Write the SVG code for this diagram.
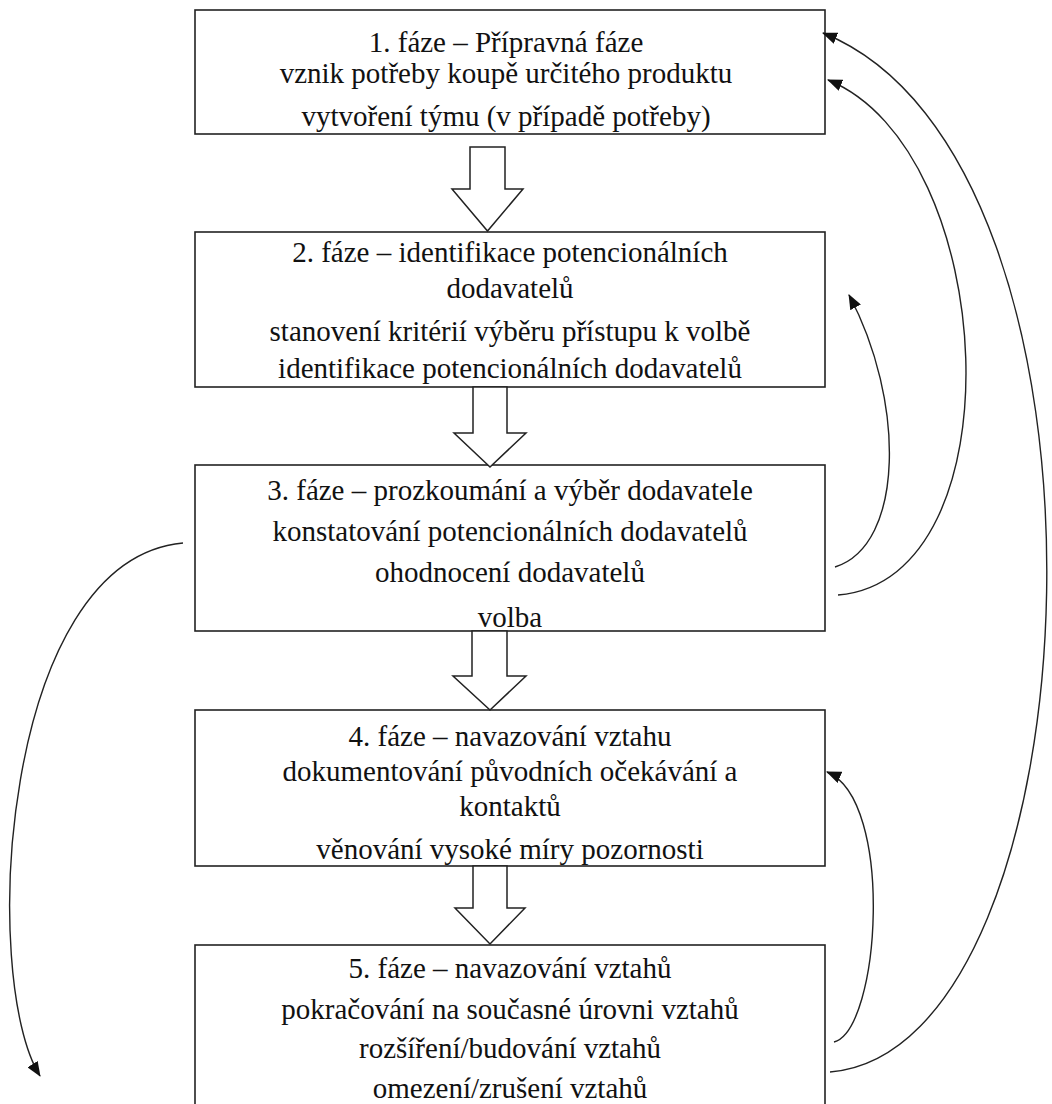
<svg xmlns="http://www.w3.org/2000/svg" width="1052" height="1104" viewBox="0 0 1052 1104">
<style>
.box{fill:#fff;stroke:#222;stroke-width:1.6}
.blk{fill:#fff;stroke:#222;stroke-width:1.5;stroke-linejoin:miter}
.t{font-family:'Liberation Serif','DejaVu Serif',serif;font-size:29px;fill:#111;text-anchor:middle}
.c{fill:none;stroke:#222;stroke-width:1.4}
</style>
<defs>
<marker id="ah" markerUnits="userSpaceOnUse" markerWidth="16" markerHeight="12" refX="14" refY="6" orient="auto">
<path d="M0,0 L15,6 L0,12 Z" fill="#111"/>
</marker>
</defs>
<rect width="1052" height="1104" fill="#fff"/>

<g id="node1" font-family="Liberation Serif, serif">
<rect class="box" x="195" y="10" width="630" height="124"/>
<text class="t" x="506" y="52">1. fáze – Přípravná fáze</text>
<text class="t" x="506" y="83">vznik potřeby koupě určitého produktu</text>
<text class="t" x="506" y="126">vytvoření týmu (v případě potřeby)</text>
</g>
<g id="node2">
<rect class="box" x="195" y="232" width="630" height="155"/>
<text class="t" x="510" y="262">2. fáze – identifikace potencionálních</text>
<text class="t" x="510" y="298">dodavatelů</text>
<text class="t" x="510" y="341">stanovení kritérií výběru přístupu k volbě</text>
<text class="t" x="510" y="378">identifikace potencionálních dodavatelů</text>
</g>
<g id="node3">
<rect class="box" x="195" y="465" width="630" height="166"/>
<text class="t" x="510" y="500">3. fáze – prozkoumání a výběr dodavatele</text>
<text class="t" x="510" y="541">konstatování potencionálních dodavatelů</text>
<text class="t" x="510" y="582">ohodnocení dodavatelů</text>
<text class="t" x="510" y="627">volba</text>
</g>
<g id="node4">
<rect class="box" x="195" y="710" width="630" height="156"/>
<text class="t" x="510" y="746">4. fáze – navazování vztahu</text>
<text class="t" x="510" y="781">dokumentování původních očekávání a</text>
<text class="t" x="510" y="816">kontaktů</text>
<text class="t" x="510" y="859">věnování vysoké míry pozornosti</text>
</g>
<g id="node5">
<rect class="box" x="195" y="945" width="630" height="170"/>
<text class="t" x="510" y="978">5. fáze – navazování vztahů</text>
<text class="t" x="510" y="1019">pokračování na současné úrovni vztahů</text>
<text class="t" x="510" y="1058">rozšíření/budování vztahů</text>
<text class="t" x="510" y="1098">omezení/zrušení vztahů</text>
</g>

<g id="connectors">
<path class="blk" d="M470,147 H505 V189 H523 L487.5,231 L452,189 H470 Z"/>
<path class="blk" d="M473,387 H507 V433 H526 L490,467 L454,433 H473 Z"/>
<path class="blk" d="M472,631 H507 V676 H526 L490,710 L453,676 H472 Z"/>
<path class="blk" d="M473,866 H507 V908 H525 L490,944 L455,908 H473 Z"/>
<path class="c" marker-end="url(#ah)" d="M835,567 C905,545 905,400 849,295"/>
<path class="c" marker-end="url(#ah)" d="M838,595 C1020,580 1000,150 828,80"/>
<path class="c" marker-end="url(#ah)" d="M830,1072 C1100,1050 1140,160 823,33"/>
<path class="c" marker-end="url(#ah)" d="M834,1042 C880,1030 895,800 827,772"/>
<path class="c" marker-end="url(#ah)" d="M183,543 C0,560 -20,980 40,1076"/>
</g>
</svg>
